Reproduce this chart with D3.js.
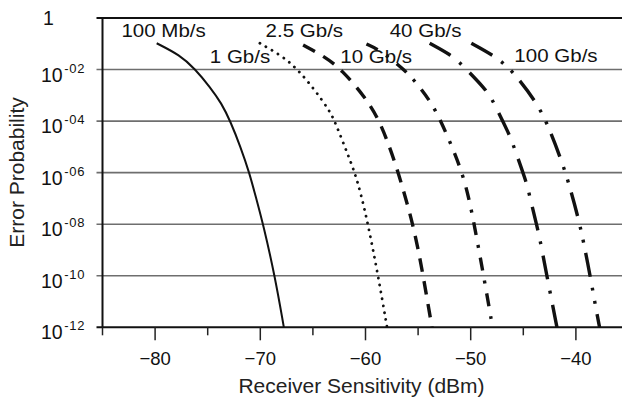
<!DOCTYPE html>
<html>
<head>
<meta charset="utf-8">
<script src="https://cdn.jsdelivr.net/npm/d3@7"></script>
<style>
  html, body { margin: 0; padding: 0; background: #fff; }
  svg { display: block; font-family: "Liberation Sans", Arial, Helvetica, sans-serif; }
</style>
</head>
<body>
<div id="chart"></div>
<script>
const xTicks = [-80, -70, -60, -50, -40];
const xMinorTicks = [-85, -75, -65, -55, -45];
const yExponents = [0, -2, -4, -6, -8, -10, -12];

const seriesNames = ["100 Mb/s", "1 Gb/s", "2.5 Gb/s", "10 Gb/s", "40 Gb/s", "100 Gb/s"];

// [receiver power in dBm, log10 of error probability]
const rate100M = [
  [-79.85, -0.98], [-77.64, -1.44], [-76.22, -1.97], [-74.8, -2.67], [-73.68, -3.31],
  [-72.83, -4.02], [-71.89, -4.99], [-71.04, -6.0], [-70.35, -7.06], [-69.73, -8.0],
  [-68.62, -10.0], [-67.76, -12.0],
];
const rate1G = [
  [-70.04, -0.98], [-67.83, -1.5], [-66.43, -2.0], [-64.82, -2.79], [-63.46, -3.57],
  [-62.92, -4.0], [-61.66, -5.32], [-61.02, -6.0], [-60.45, -6.8], [-59.76, -8.0],
  [-58.8, -10.0], [-57.95, -12.0],
];
const rate2_5G = [
  [-65.93, -1.05], [-63.87, -1.5], [-62.28, -2.0], [-60.07, -3.05], [-58.81, -3.89],
  [-58.01, -4.67], [-57.22, -5.58], [-56.59, -6.41], [-55.96, -7.32], [-55.52, -8.0],
  [-54.98, -9.0], [-54.52, -10.0], [-53.68, -12.0],
];
const rate10G = [
  [-59.91, -1.01], [-58.65, -1.24], [-56.37, -1.98], [-55.23, -2.48], [-53.8, -3.24],
  [-52.81, -4.02], [-51.76, -5.01], [-50.81, -6.0], [-50.15, -7.02], [-49.67, -8.0],
  [-48.77, -10.0], [-47.92, -12.0],
];
const rate40G = [
  [-53.9, -0.98], [-51.84, -1.44], [-50.95, -1.76], [-48.51, -2.79], [-47.89, -3.21],
  [-46.3, -4.54], [-45.92, -4.97], [-44.72, -6.35], [-44.47, -6.78], [-43.61, -8.23],
  [-43.39, -8.65], [-42.5, -10.55], [-41.8, -12.0],
];
const rate100G = [
  [-49.94, -0.98], [-47.89, -1.44], [-46.87, -1.76], [-45.92, -2.12], [-43.77, -3.25],
  [-42.66, -4.15], [-41.39, -5.51], [-40.67, -6.41], [-39.72, -7.84], [-39.21, -8.81],
  [-38.54, -10.23], [-38.13, -11.2], [-37.75, -12.0],
];

const seriesData = [rate100M, rate1G, rate2_5G, rate10G, rate40G, rate100G];

// label anchors (dBm, log10 probability) for the text start / baseline
const labelAnchors = [
  [-83.2, -0.74], [-74.8, -1.76], [-69.5, -0.75],
  [-62.4, -1.76], [-57.7, -0.73], [-45.85, -1.7],
];

const lineStyles = [
  { width: 2, dash: null, cap: "butt" },
  { width: 2.8, dash: "0.1,6.9", cap: "round" },
  { width: 3.4, dash: "13.5,9.5", cap: "butt" },
  { width: 3.4, dash: "13,10,3,10", cap: "butt" },
  { width: 3.4, dash: "24,11.5,3,11.5", cap: "butt" },
  { width: 3.4, dash: "24,11,3,10.5,3,10.5", cap: "butt" },
];

const width = 622;
const height = 399;

const svg = d3.select("#chart").append("svg")
  .attr("width", width)
  .attr("height", height);

const x = d3.scaleLinear().domain([-85, -35]).range([102.5, 628.5]);
const y = d3.scaleLog().domain([1e-12, 1]).range([327.3, 18]);

const left = x(-85);
const tickOut = 6;

// horizontal grid lines
svg.append("g")
  .selectAll("line")
  .data(yExponents.filter((e) => e !== 0 && e !== -12))
  .join("line")
  .attr("x1", left - tickOut)
  .attr("x2", width)
  .attr("y1", (e) => y(10 ** e))
  .attr("y2", (e) => y(10 ** e))
  .attr("stroke", "#6e6e6e")
  .attr("stroke-width", 1.6);

// frame: top, bottom, left
const frame = svg.append("g").attr("stroke", "#111").attr("stroke-width", 2);
frame.append("line")
  .attr("x1", left - tickOut).attr("x2", width)
  .attr("y1", y(1)).attr("y2", y(1));
frame.append("line")
  .attr("x1", left - tickOut).attr("x2", width)
  .attr("y1", y(1e-12)).attr("y2", y(1e-12));
frame.append("line")
  .attr("x1", left).attr("x2", left)
  .attr("y1", y(1)).attr("y2", y(1e-12));

// x ticks
const xAxisY = y(1e-12);
svg.append("g")
  .selectAll("line.major")
  .data(xTicks)
  .join("line")
  .attr("x1", (d) => x(d)).attr("x2", (d) => x(d))
  .attr("y1", xAxisY).attr("y2", xAxisY + 13)
  .attr("stroke", "#222").attr("stroke-width", 1.5);
svg.append("g")
  .selectAll("line.minor")
  .data(xMinorTicks)
  .join("line")
  .attr("x1", (d) => x(d)).attr("x2", (d) => x(d))
  .attr("y1", xAxisY).attr("y2", xAxisY + 8)
  .attr("stroke", "#222").attr("stroke-width", 1.5);

svg.append("g")
  .selectAll("text")
  .data(xTicks)
  .join("text")
  .attr("x", (d) => x(d))
  .attr("y", 365)
  .attr("text-anchor", "middle")
  .attr("font-size", 18.5)
  .attr("fill", "#111")
  .text((d) => "\u2212" + Math.abs(d));

// y tick labels
const yLabels = svg.append("g").attr("fill", "#111");
yExponents.forEach((e) => {
  const py = y(10 ** e);
  if (e === 0) {
    yLabels.append("text")
      .attr("x", 43).attr("y", py + 7)
      .attr("font-size", 19.5)
      .text("1");
    return;
  }
  const t = yLabels.append("text")
    .attr("x", 41).attr("y", py + 12)
    .attr("font-size", 19.5);
  t.append("tspan").text("10");
  t.append("tspan")
    .attr("dx", 1.5)
    .attr("dy", -9)
    .attr("font-size", 13)
    .attr("letter-spacing", 0.8)
    .text("-" + String(Math.abs(e)).padStart(2, "0"));
});

// curves
const line = d3.line()
  .x((d) => x(d[0]))
  .y((d) => y(10 ** d[1]))
  .curve(d3.curveBasis);

svg.append("g")
  .selectAll("path")
  .data(seriesData)
  .join("path")
  .attr("d", (d) => line(d))
  .attr("fill", "none")
  .attr("stroke", "#111")
  .attr("stroke-width", (d, i) => lineStyles[i].width)
  .attr("stroke-dasharray", (d, i) => lineStyles[i].dash)
  .attr("stroke-linecap", (d, i) => lineStyles[i].cap);

// curve labels
svg.append("g")
  .selectAll("text")
  .data(seriesNames)
  .join("text")
  .attr("transform", (d, i) =>
    `translate(${x(labelAnchors[i][0])},${y(10 ** labelAnchors[i][1])}) scale(1.08,1)`)
  .attr("font-size", 19)
  .attr("fill", "#111")
  .text((d) => d);

// axis titles
svg.append("text")
  .attr("x", 361.5)
  .attr("y", 393)
  .attr("text-anchor", "middle")
  .attr("font-size", 21)
  .attr("fill", "#222")
  .text("Receiver Sensitivity (dBm)");

svg.append("text")
  .attr("transform", "translate(23.5,172.5) rotate(-90)")
  .attr("text-anchor", "middle")
  .attr("font-size", 21)
  .attr("fill", "#222")
  .text("Error Probability");
</script>
</body>
</html>
